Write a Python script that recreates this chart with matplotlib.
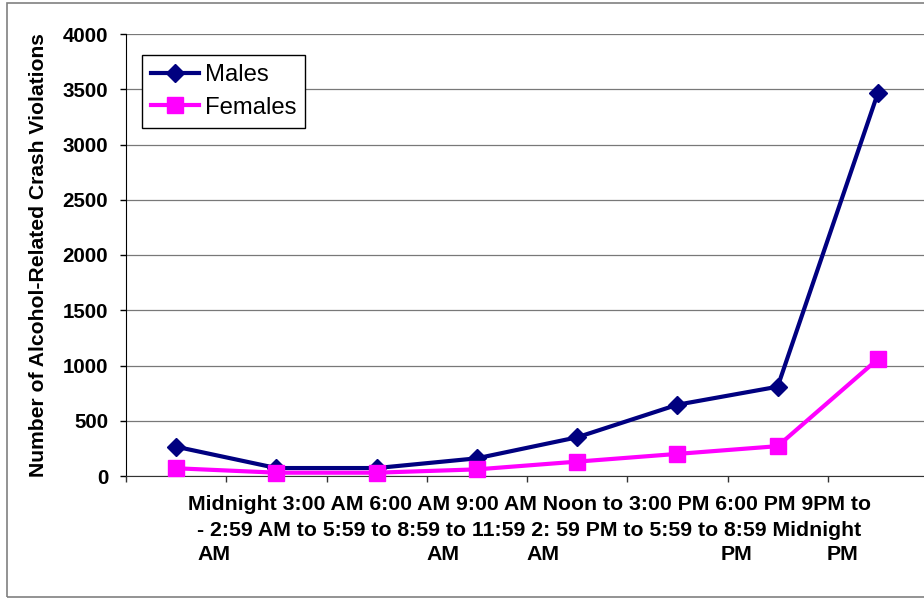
"""Alcohol-related crash violations by time of day, males vs. females."""
import matplotlib
import matplotlib.pyplot as plt
import numpy as np
from matplotlib.patches import Rectangle
from matplotlib.transforms import blended_transform_factory

matplotlib.use("Agg")

plt.rcParams["font.family"] = ["Liberation Sans", "DejaVu Sans"]

CATEGORIES = [
    "Midnight - 2:59 AM",
    "3:00 AM to 5:59 AM",
    "6:00 AM to 8:59 AM",
    "9:00 AM to 11:59 AM",
    "Noon to 2:59 PM",
    "3:00 PM to 5:59 PM",
    "6:00 PM to 8:59 PM",
    "9PM to Midnight",
]
MALES = [265, 72, 72, 160, 350, 645, 808, 3466]
FEMALES = [70, 30, 30, 60, 130, 200, 270, 1058]

# category labels as they wrap under the axis
TICK_ROWS = [
    "Midnight 3:00 AM 6:00 AM 9:00 AM Noon to 3:00 PM 6:00 PM 9PM to",
    "- 2:59 AM to 5:59 to 8:59 to 11:59 2: 59 PM to 5:59 to 8:59 Midnight",
]
TICK_TAILS = ["AM", "AM", "AM", "PM", "PM"]

NAVY = "#000080"
MAGENTA = "#ff00ff"
GRID = "#787878"

W, H = 924, 598
fig = plt.figure(figsize=(W / 100, H / 100), dpi=100)
fig.patch.set_facecolor("white")

# outer chart border (runs off the right edge)
fig.patches.append(Rectangle((6.5 / W, 1.5 / H), 1.2, 1 - 4.5 / H,
                             transform=fig.transFigure, fill=False,
                             edgecolor="#808080", linewidth=1.2))

ax = fig.add_axes([126 / W, 122 / H, 802 / W, 442 / H])
x = np.arange(len(CATEGORIES))

ax.plot(x, MALES, color=NAVY, linewidth=3, marker="D", markersize=9,
        label="Males", zorder=3, clip_on=False)
ax.plot(x, FEMALES, color=MAGENTA, linewidth=3, marker="s", markersize=12,
        label="Females", zorder=3, clip_on=False)

ax.set_xlim(-0.5, len(CATEGORIES) - 0.5)
ax.set_ylim(0, 4000)
ax.set_yticks(np.arange(0, 4001, 500))
ax.set_xticks(np.arange(len(CATEGORIES) + 1) - 0.5)
ax.set_xticklabels([])
ax.yaxis.grid(True, color=GRID, linewidth=0.9)
ax.set_axisbelow(True)

for side in ("top", "right"):
    ax.spines[side].set_visible(False)
ax.spines["left"].set_color("black")
ax.spines["bottom"].set_color("#333333")
ax.tick_params(axis="y", direction="out", length=4.3, width=1, pad=8.5,
               labelsize=14.8)
ax.tick_params(axis="x", direction="out", length=4, width=1, color="#333333")
for lbl in ax.get_yticklabels():
    lbl.set_fontweight("bold")

ax.text(-0.1097, 0.5, "Number of Alcohol-Related Crash Violations",
        transform=ax.transAxes, rotation=90, ha="center", va="center",
        fontsize=15.2, fontweight="bold")

row_y = [505, 530, 554]
for text, y in zip(TICK_ROWS, row_y):
    fig.text(529 / W, 1 - y / H, text, ha="center", va="center",
             fontsize=15.3, fontweight="bold")
tail_x = [0.38, 2.66, 3.66, 5.59, 6.65]
trans = blended_transform_factory(ax.transData, fig.transFigure)
for text, xt in zip(TICK_TAILS, tail_x):
    ax.text(xt, 1 - row_y[2] / H, text, transform=trans, ha="center",
            va="center", fontsize=15.3, fontweight="bold")

leg = ax.legend(loc="upper left", bbox_to_anchor=(142 / W, 1 - 55 / H),
                bbox_transform=fig.transFigure, fontsize=17.2, frameon=True,
                fancybox=False, framealpha=1, edgecolor="black",
                borderpad=0.38, labelspacing=0.45, handlelength=2.0,
                handletextpad=0.25, borderaxespad=0)
leg.get_frame().set_linewidth(1)

fig.savefig("out.png", dpi=100, facecolor="white")
